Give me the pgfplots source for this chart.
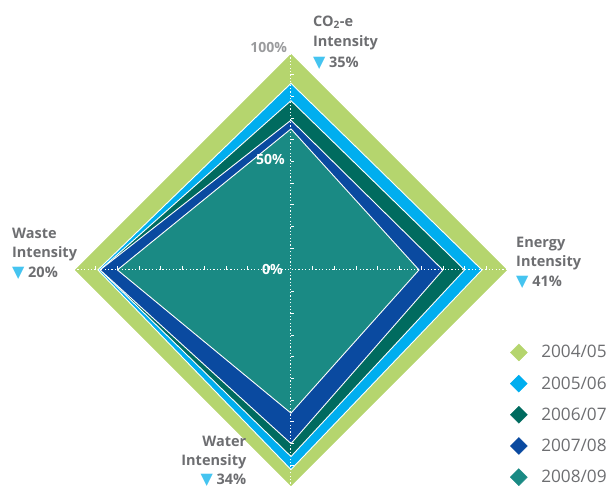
\documentclass[border=0pt]{standalone}
\usepackage{pgfplots}
\pgfplotsset{compat=1.18}
\usepackage{fontspec}
\setmainfont{Open Sans}
\newfontfamily\dejavu{DejaVu Sans}
\definecolor{cgreen}{HTML}{B5D56E}
\definecolor{clblue}{HTML}{00AEEF}
\definecolor{cdteal}{HTML}{006B5F}
\definecolor{cdblue}{HTML}{0A4AA0}
\definecolor{cteal}{HTML}{1A8A84}
\definecolor{cgray}{HTML}{6D6E71}
\definecolor{clgray}{HTML}{9A9B9D}
\definecolor{ctri}{HTML}{45C4F0}
\newcommand{\tri}{{\dejavu\fontsize{16}{16}\selectfont\color{ctri}▼}}
\begin{document}
\begin{tikzpicture}
\begin{axis}[
  scale only axis, width=613pt, height=488pt,
  xmin=-134.1, xmax=148.4, ymin=-100.5, ymax=124.4,
  hide axis, clip=false,
  legend style={at={(axis cs:101,-33.8)}, anchor=north west, draw=none, fill=none,
    font=\fontsize{17.2}{19}\selectfont\color{cgray}, row sep=13.2pt,
    legend cell align=left, inner sep=0pt},
  legend image code/.code={\draw[#1] plot coordinates {(0cm,0cm)}; \path[draw=none] (0,0) -- (0.72cm,0);},
]
% polygons: top, right, bottom, left
\addplot[fill=cgreen, draw=white, line width=0.9pt, forget plot] coordinates {(0,100) (100,0) (0,-100) (-100,0)} -- cycle;
\addplot[fill=clblue, draw=white, line width=0.9pt, forget plot] coordinates {(0,86) (88,0) (0,-92) (-89,0)} -- cycle;
\addplot[fill=cdteal, draw=white, line width=0.9pt, forget plot] coordinates {(0,78) (80,0) (0,-86) (-88,0)} -- cycle;
\addplot[fill=cdblue, draw=white, line width=0.9pt, forget plot] coordinates {(0,69) (70,0) (0,-80) (-88,0)} -- cycle;
\addplot[fill=cteal, draw=white, line width=0.9pt, forget plot] coordinates {(0,65) (59,0) (0,-66) (-80,0)} -- cycle;
% axes
\draw[white, line width=1pt, dash pattern=on 1.2pt off 2.2pt] (axis cs:0,-100) -- (axis cs:0,100);
\draw[white, line width=1pt, dash pattern=on 1.2pt off 2.2pt] (axis cs:-100,0) -- (axis cs:100,0);
\pgfplotsinvokeforeach{10,20,30,40,50,60,70,80,90}{
  \draw[white, line width=0.7pt] (axis cs:0,#1) -- ([xshift=3.5pt]axis cs:0,#1);
  \draw[white, line width=0.7pt] (axis cs:0,-#1) -- ([xshift=3.5pt]axis cs:0,-#1);
  \draw[white, line width=0.7pt] (axis cs:#1,0) -- ([yshift=3.5pt]axis cs:#1,0);
  \draw[white, line width=0.7pt] (axis cs:-#1,0) -- ([yshift=3.5pt]axis cs:-#1,0);
}
% scale labels
\node[anchor=east, inner sep=0pt, text=clgray, font=\fontsize{14}{16}\selectfont\bfseries] at (axis cs:-1.8,102.3) {100\%};
\node[anchor=east, inner sep=0pt, text=white, font=\fontsize{14}{16}\selectfont\bfseries] at (axis cs:-2.8,50.7) {50\%};
\node[anchor=east, inner sep=0pt, text=white, font=\fontsize{14}{16}\selectfont\bfseries] at (axis cs:-3.7,0) {0\%};
% axis labels
\node[anchor=north west, inner sep=0pt, align=left, text=cgray, font=\fontsize{14.5}{20.5}\selectfont\bfseries] at (axis cs:10.1,117.2) {CO\textsubscript{2}-e\\Intensity\\\tri\ 35\%};
\node[anchor=north west, inner sep=0pt, align=left, text=cgray, font=\fontsize{14.5}{19.5}\selectfont\bfseries] at (axis cs:103.7,15.4) {Energy\\Intensity\\\tri\ 41\%};
\node[anchor=north west, inner sep=0pt, align=left, text=cgray, font=\fontsize{14.5}{19.5}\selectfont\bfseries] at (axis cs:-128.6,19.5) {Waste\\Intensity\\\tri\ 20\%};
\node[anchor=north east, inner sep=0pt, align=right, text=cgray, font=\fontsize{14.5}{19}\selectfont\bfseries] at (axis cs:-20.5,-76.6) {Water\\Intensity\\\tri\ 34\%};
% legend
\addlegendimage{only marks, mark=square*, mark options={rotate=45, fill=cgreen, draw=cgreen}, mark size=6pt}
\addlegendentry{2004/05}
\addlegendimage{only marks, mark=square*, mark options={rotate=45, fill=clblue, draw=clblue}, mark size=6pt}
\addlegendentry{2005/06}
\addlegendimage{only marks, mark=square*, mark options={rotate=45, fill=cdteal, draw=cdteal}, mark size=6pt}
\addlegendentry{2006/07}
\addlegendimage{only marks, mark=square*, mark options={rotate=45, fill=cdblue, draw=cdblue}, mark size=6pt}
\addlegendentry{2007/08}
\addlegendimage{only marks, mark=square*, mark options={rotate=45, fill=cteal, draw=cteal}, mark size=6pt}
\addlegendentry{2008/09}
\end{axis}
\pgfresetboundingbox
\path[use as bounding box] (current axis.south west) rectangle (current axis.north east);
\end{tikzpicture}
\end{document}
